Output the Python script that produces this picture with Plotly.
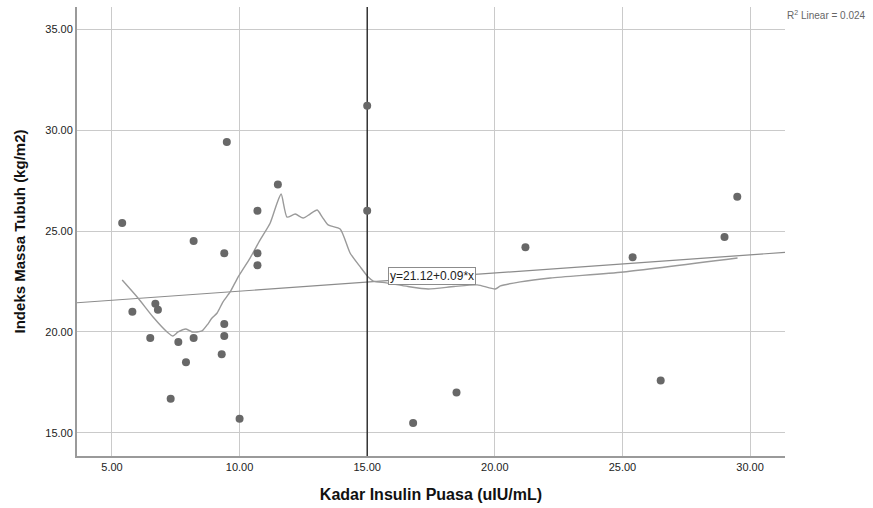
import plotly.graph_objects as go
import numpy as np

# Observed data
insulin = [5.4, 5.8, 6.5, 6.7, 6.8, 7.3, 7.6, 7.9, 8.2, 8.2, 9.3, 9.4, 9.4, 9.4, 9.5,
           10.0, 10.7, 10.7, 10.7, 11.5, 15.0, 15.0, 16.8, 18.5, 21.2, 25.4, 26.5, 29.0, 29.5]
imt = [25.4, 21.0, 19.7, 21.4, 21.1, 16.7, 19.5, 18.5, 24.5, 19.7, 18.9, 23.9, 20.4, 19.8, 29.4,
       15.7, 26.0, 23.9, 23.3, 27.3, 31.2, 26.0, 15.5, 17.0, 24.2, 23.7, 17.6, 24.7, 26.7]

# Loess fit line
loess_x = [5.40, 6.02, 6.61, 7.16, 7.39, 7.59, 7.90, 8.14, 8.33, 8.53, 8.73, 8.92, 9.12, 9.35,
           9.63, 9.94, 10.41, 10.80, 11.20, 11.47, 11.63, 11.86, 12.18, 12.49, 12.76, 13.04,
           13.24, 13.47, 13.94, 14.33, 14.73, 15.04, 15.24, 15.75, 16.6, 17.39, 18.4, 19.31,
           20.02, 20.22, 21.0, 22.18, 25.04, 29.51]
loess_y = [22.57, 21.68, 20.74, 20.0, 19.80, 20.0, 20.15, 20.0, 20.0, 20.05, 20.35, 20.69,
           20.94, 21.49, 21.98, 22.72, 23.66, 24.55, 25.40, 26.39, 26.83, 25.69, 25.84, 25.64,
           25.84, 26.04, 25.69, 25.30, 25.10, 23.91, 23.22, 22.72, 22.52, 22.43, 22.25, 22.13,
           22.25, 22.33, 22.13, 22.28, 22.48, 22.67, 22.97, 23.66]

# Linear fit
intercept = 21.12
slope = 0.09
x_range = [3.63, 31.37]
y_range = [13.86, 36.09]
x_ticks = [5, 10, 15, 20, 25, 30]
y_ticks = [15, 20, 25, 30, 35]
ref_x = 15.0

fit_x = np.array(x_range)
fit_y = intercept + slope * fit_x

fig = go.Figure()
fig.add_trace(go.Scatter(x=fit_x, y=fit_y, mode="lines",
                         line=dict(color="#8c8c8c", width=1.2), hoverinfo="skip"))
fig.add_trace(go.Scatter(x=loess_x, y=loess_y, mode="lines",
                         line=dict(color="#9a9a9a", width=1.4, shape="spline", smoothing=0.6),
                         hoverinfo="skip"))
fig.add_trace(go.Scatter(x=[ref_x, ref_x], y=y_range, mode="lines",
                         line=dict(color="#1a1a1a", width=1.3), hoverinfo="skip"))
fig.add_trace(go.Scatter(x=insulin, y=imt, mode="markers",
                         marker=dict(color="#686868", size=8, line=dict(width=0))))

fig.add_annotation(x=17.53, y=22.77, xref="x", yref="y",
                   text="y=21.12+0.09*x", showarrow=False,
                   font=dict(family="Liberation Sans, Arial", size=12, color="#222"),
                   bgcolor="white", bordercolor="#8c8c8c", borderwidth=1, borderpad=1)
fig.add_annotation(x=1.0, y=1.0, xref="paper", yref="paper", xanchor="left", yanchor="top",
                   xshift=0, yshift=0,
                   text="R<sup>2</sup> Linear = 0.024", showarrow=False,
                   font=dict(family="Liberation Sans, Arial", size=10, color="#666"))

fig.update_layout(
    width=873, height=508,
    margin=dict(l=77, r=88, t=7, b=52),
    paper_bgcolor="white", plot_bgcolor="white",
    showlegend=False,
    font=dict(family="Liberation Sans, Arial", size=11, color="#222"),
)
fig.update_xaxes(range=x_range, tickvals=x_ticks, ticktext=[f"{v:.2f}" for v in x_ticks],
                 showgrid=True, gridcolor="#cacaca", gridwidth=1.2,
                 showline=True, linecolor="#9a9a9a", linewidth=2, zeroline=False,
                 ticks="", ticklen=0,
                 title=dict(text="<b>Kadar Insulin Puasa (uIU/mL)</b>",
                            font=dict(size=16, color="#111"), standoff=17))
fig.update_yaxes(range=y_range, tickvals=y_ticks, ticktext=[f"{v:.2f}" for v in y_ticks],
                 showgrid=True, gridcolor="#cacaca", gridwidth=1.2,
                 showline=True, linecolor="#9a9a9a", linewidth=2, zeroline=False,
                 ticks="",
                 title=dict(text="<b>Indeks Massa Tubuh (kg/m2)</b>",
                            font=dict(size=15, color="#111"), standoff=16))

fig.write_html("out.html", config={"displayModeBar": False},
               post_script="document.body.style.margin='0';")
